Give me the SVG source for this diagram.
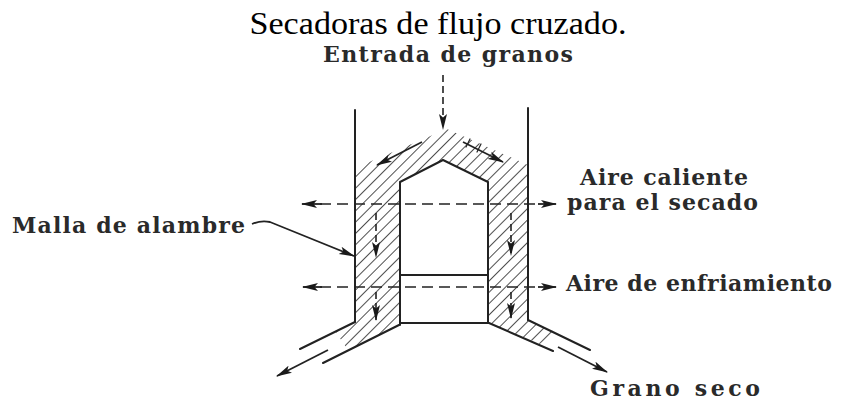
<svg xmlns="http://www.w3.org/2000/svg" width="848" height="404" viewBox="0 0 848 404">
  <style>
    .ln { fill: none; stroke: #222; stroke-width: 2; stroke-linecap: round; stroke-linejoin: round; }
    .dash { fill: none; stroke: #222; stroke-width: 1.7; stroke-dasharray: 11 6; }
    .arr { fill: none; stroke: #222; stroke-width: 1.8; marker-end: url(#head); }
    .darr { fill: none; stroke: #222; stroke-width: 1.6; stroke-dasharray: 7 4; marker-end: url(#head); }
    .lbl { font-family: "DejaVu Serif", "Liberation Serif", serif; font-weight: bold; font-size: 22px; fill: #2a2a2a; }
    .title { font-family: "Liberation Serif", "Times New Roman", serif; font-size: 31px; fill: #000; }
  </style>
  <defs>
    <marker id="head" viewBox="0 0 16 9" refX="15" refY="4.5" markerWidth="16" markerHeight="9" markerUnits="userSpaceOnUse" orient="auto">
      <path d="M0,0.5 L16,4.5 L0,8.5 L3.5,4.5 Z" fill="#1a1a1a"/>
    </marker>
    <pattern id="hatch" width="8" height="8" patternUnits="userSpaceOnUse" patternTransform="rotate(45)">
      <line x1="0" y1="0" x2="0" y2="8" stroke="#222" stroke-width="1.6"/>
    </pattern>
    <clipPath id="grainBed">
      <polygon points="355,168 447,129 528,165 528,320 555,332 540,344 489,323 488,182 443,160 400,182 399,325 348,350 335,331 355,322"/>
    </clipPath>
  </defs>

  <text class="title" x="438" y="34" text-anchor="middle" textLength="377" lengthAdjust="spacingAndGlyphs">Secadoras de flujo cruzado.</text>

  <!-- hatched grain column -->
  <g id="grain-bed">
    <rect x="290" y="120" width="330" height="250" fill="url(#hatch)" clip-path="url(#grainBed)"/>
  </g>

  <!-- outer walls and chutes -->
  <g id="dryer-shell">
    <line class="ln" x1="355" y1="110" x2="355" y2="322"/>
    <line class="ln" x1="528" y1="108" x2="528" y2="320"/>
    <line class="ln" x1="355" y1="322" x2="300" y2="349"/>
    <line class="ln" x1="399" y1="325" x2="323" y2="363"/>
    <line class="ln" x1="528" y1="320" x2="590" y2="350"/>
    <line class="ln" x1="489" y1="323" x2="553" y2="351"/>
  </g>

  <!-- inner air plenum -->
  <g id="plenum">
    <polyline class="ln" points="400,325 400,182 443,160 488,182 488,323"/>
    <line class="ln" x1="400" y1="323" x2="488" y2="323"/>
    <line class="ln" x1="400" y1="275" x2="488" y2="275"/>
  </g>

  <g id="connectors">
    <!-- grain inlet -->
    <line class="darr" x1="443" y1="75" x2="443" y2="129"/>
    <!-- grain flow over the roof -->
    <line class="arr" x1="422" y1="142" x2="377" y2="165"/>
    <line class="arr" x1="463" y1="142" x2="503" y2="162"/>
    <line class="ln" x1="470" y1="139" x2="466" y2="147" style="stroke-width:1.2"/>
    <line class="ln" x1="481" y1="144" x2="477" y2="152" style="stroke-width:1.2"/>
    <!-- grain flow down the walls -->
    <line class="darr" x1="376" y1="213" x2="376" y2="257"/>
    <line class="darr" x1="376" y1="292" x2="376" y2="320"/>
    <line class="darr" x1="511" y1="213" x2="511" y2="255"/>
    <line class="darr" x1="511" y1="292" x2="511" y2="318"/>
    <!-- hot drying air -->
    <line class="dash" x1="320" y1="204" x2="540" y2="204"/>
    <line class="arr" x1="322" y1="204" x2="302" y2="204"/>
    <line class="arr" x1="538" y1="204" x2="556" y2="204"/>
    <!-- cooling air -->
    <line class="dash" x1="320" y1="287" x2="540" y2="287"/>
    <line class="arr" x1="322" y1="287" x2="303" y2="287"/>
    <line class="arr" x1="538" y1="287" x2="556" y2="287"/>
    <!-- dry grain outlets -->
    <line class="arr" x1="328" y1="350" x2="277" y2="376"/>
    <line class="arr" x1="558" y1="347" x2="607" y2="372"/>
    <!-- wire mesh leader -->
    <path class="arr" d="M252,224 Q261,220 270,222 L354,256"/>
  </g>

  <g id="labels">
    <text class="lbl" x="323" y="62" textLength="250" lengthAdjust="spacing">Entrada de granos</text>
    <text class="lbl" x="12" y="233" textLength="233" lengthAdjust="spacing">Malla de alambre</text>
    <text class="lbl" x="580" y="185" textLength="168" lengthAdjust="spacing">Aire caliente</text>
    <text class="lbl" x="567" y="210" textLength="191" lengthAdjust="spacing">para el secado</text>
    <text class="lbl" x="566" y="291" textLength="266" lengthAdjust="spacing">Aire de enfriamiento</text>
    <text class="lbl" x="590" y="396" textLength="170" lengthAdjust="spacing">Grano seco</text>
  </g>
</svg>
